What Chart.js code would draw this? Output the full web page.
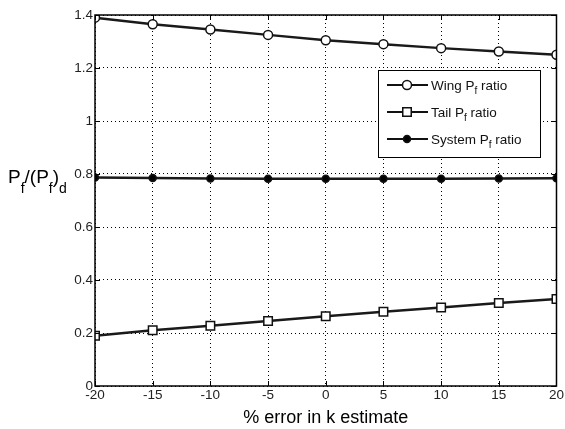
<!DOCTYPE html>
<html lang="en">
<head>
    <meta charset="UTF-8">
    <title>Pf ratio vs % error in k estimate</title>
    <script src="https://cdn.jsdelivr.net/npm/chart.js"></script>
    <style>
        html, body { margin: 0; padding: 0; background: #fff; }
        #wrap { width: 565px; height: 429px; position: relative; }
    </style>
</head>
<body>
    <div id="wrap"><canvas id="pfChart" width="565" height="429"></canvas></div>

    <script>
        // Data
        const kError = [-20, -15, -10, -5, 0, 5, 10, 15, 20];
        const wingRatio = [1.39, 1.365, 1.345, 1.325, 1.305, 1.29, 1.275, 1.262, 1.25];
        const tailRatio = [0.19, 0.21, 0.227, 0.245, 0.263, 0.28, 0.296, 0.313, 0.328];
        const systemRatio = [0.787, 0.785, 0.783, 0.782, 0.782, 0.782, 0.782, 0.783, 0.784];
        const seriesNames = ['Wing', 'Tail', 'System'];
        const xTicks = [-20, -15, -10, -5, 0, 5, 10, 15, 20];
        const yTicks = [0, 0.2, 0.4, 0.6, 0.8, 1, 1.2, 1.4];

        const font = 'Arial, "Liberation Sans", sans-serif';
        const toPts = ys => kError.map((x, i) => ({ x: x, y: ys[i] }));

        // draw "P_f" style pieces: array of [text, isSub]
        function drawParts(ctx, parts, x, y, size, subSize, subDrop) {
            parts.forEach(p => {
                ctx.font = (p[1] ? subSize : size) + 'px ' + font;
                ctx.fillText(p[0], x, p[1] ? y + subDrop : y);
                x += ctx.measureText(p[0]).width;
            });
        }

        const framePlugin = {
            id: 'frame',
            afterDraw(chart) {
                const ctx = chart.ctx;
                const a = chart.chartArea;
                const xs = chart.scales.x, ys = chart.scales.y;
                ctx.save();
                ctx.strokeStyle = '#000';
                ctx.lineWidth = 1.5;
                ctx.strokeRect(a.left, a.top, a.right - a.left, a.bottom - a.top);
                ctx.lineWidth = 1;
                ctx.beginPath();
                xTicks.forEach(v => {
                    const px = Math.round(xs.getPixelForValue(v)) + 0.5;
                    ctx.moveTo(px, a.bottom); ctx.lineTo(px, a.bottom - 5);
                    ctx.moveTo(px, a.top); ctx.lineTo(px, a.top + 5);
                });
                yTicks.forEach(v => {
                    const py = Math.round(ys.getPixelForValue(v)) + 0.5;
                    ctx.moveTo(a.left, py); ctx.lineTo(a.left + 5, py);
                    ctx.moveTo(a.right, py); ctx.lineTo(a.right - 5, py);
                });
                ctx.stroke();

                // y axis title with subscripts
                ctx.fillStyle = '#000';
                ctx.textBaseline = 'alphabetic';
                ctx.textAlign = 'left';
                drawParts(ctx, [['P', 0], ['f', 1], ['/(P', 0], ['f', 1], [')', 0], ['d', 1]],
                    8, 183, 19, 14, 10);

                // legend box
                const lx = 378, ly = 70, lw = 162, lh = 87;
                ctx.fillStyle = '#fff';
                ctx.fillRect(lx, ly, lw, lh);
                ctx.strokeStyle = '#000';
                ctx.lineWidth = 1;
                ctx.strokeRect(lx + 0.5, ly + 0.5, lw, lh);
                chart.data.datasets.forEach((ds, i) => {
                    const ry = 85 + i * 27;
                    ctx.strokeStyle = '#111';
                    ctx.lineWidth = 2;
                    ctx.beginPath();
                    ctx.moveTo(387, ry); ctx.lineTo(428, ry);
                    ctx.stroke();
                    ctx.fillStyle = ds.pointBackgroundColor;
                    ctx.lineWidth = ds.pointBorderWidth;
                    Chart.helpers.drawPoint(ctx, {
                        pointStyle: ds.pointStyle,
                        radius: ds.pointRadius,
                        borderWidth: ds.pointBorderWidth
                    }, 407, ry);
                    ctx.fillStyle = '#111';
                    drawParts(ctx, [[seriesNames[i] + ' P', 0], ['f', 1], [' ratio', 0]],
                        431, ry + 5, 13.5, 10, 4);
                });
                ctx.restore();
            }
        };

        const lineDs = (label, ys, style, r, fill) => ({
            label: label,
            data: toPts(ys),
            borderColor: '#1a1a1a',
            borderWidth: 2.5,
            pointStyle: style,
            pointRadius: r,
            pointBorderWidth: 1.5,
            pointBorderColor: '#111',
            pointBackgroundColor: fill,
            tension: 0
        });

        new Chart(document.getElementById('pfChart'), {
            type: 'line',
            data: {
                datasets: [
                    lineDs('Wing Pf ratio', wingRatio, 'circle', 4.5, '#fff'),
                    lineDs('Tail Pf ratio', tailRatio, 'rect', 6, '#fff'),
                    lineDs('System Pf ratio', systemRatio, 'circle', 3.5, '#000')
                ]
            },
            options: {
                responsive: false,
                animation: false,
                layout: { padding: { left: 0, top: 15, right: 5, bottom: 0 } },
                plugins: { legend: { display: false }, tooltip: { enabled: false } },
                scales: {
                    x: {
                        type: 'linear',
                        min: -20, max: 20,
                        afterBuildTicks: s => { s.ticks = xTicks.map(v => ({ value: v })); },
                        afterFit: s => { s.height = 43; },
                        grid: { color: '#000', lineWidth: 1, drawTicks: false },
                        border: { display: false, dash: [1, 3] },
                        ticks: { color: '#222', font: { size: 13.5, family: font }, padding: 1, maxRotation: 0 },
                        title: {
                            display: true,
                            text: '% error in k estimate',
                            color: '#000',
                            font: { size: 18, family: font },
                            padding: { top: 0, bottom: 0 }
                        }
                    },
                    y: {
                        min: 0, max: 1.4,
                        afterBuildTicks: s => { s.ticks = yTicks.map(v => ({ value: v })); },
                        afterFit: s => { s.width = 95; },
                        grid: { color: '#000', lineWidth: 1, drawTicks: false },
                        border: { display: false, dash: [1, 3] },
                        ticks: {
                            color: '#222',
                            font: { size: 13.5, family: font },
                            padding: 2,
                            callback: v => String(+v.toFixed(1))
                        }
                    }
                }
            },
            plugins: [framePlugin]
        });
    </script>
</body>
</html>
